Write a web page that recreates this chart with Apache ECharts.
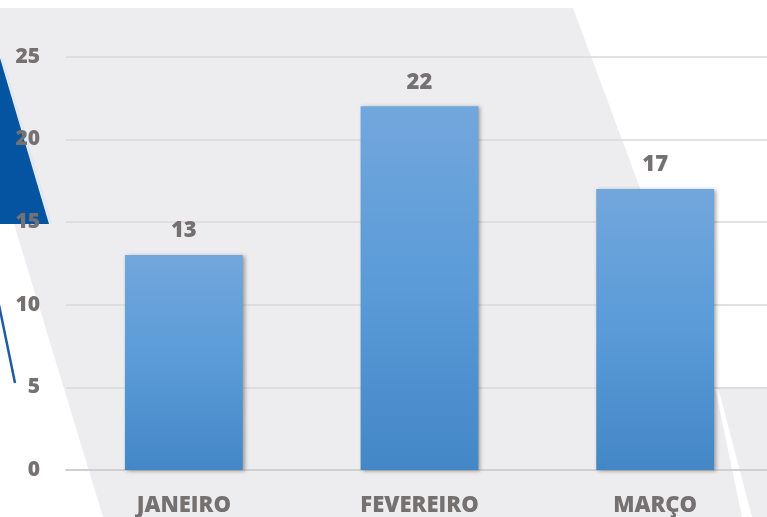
<!DOCTYPE html>
<html>
<head>
<meta charset="utf-8">
<script src="https://cdn.jsdelivr.net/npm/echarts@6/dist/echarts.min.js"></script>
<style>
html,body{margin:0;padding:0;background:#ffffff;}
#chart{width:767px;height:517px;}
</style>
</head>
<body>
<div id="chart"></div>
<script>
var categories = ['JANEIRO', 'FEVEREIRO', 'MARÇO'];
var values = [13, 22, 17];
var yMin = 0, yMax = 25, yStep = 5;

var chart = echarts.init(document.getElementById('chart'), null, {renderer: 'canvas'});
var textGrey = '#767171';
var bgGrey = '#EDEDEF';
var fontFam = '"Open Sans", sans-serif';

var option = {
  backgroundColor: '#ffffff',
  animation: false,
  graphic: [
    {type: 'polygon', z: -20, silent: true,
     shape: {points: [[0,8],[573,8],[716,392],[742,517],[103,517],[14,224],[0,224]]},
     style: {fill: bgGrey}},
    {type: 'polygon', z: -20, silent: true,
     shape: {points: [[718,387],[767,387],[767,517],[752,517]]},
     style: {fill: bgGrey}},
    {type: 'polygon', z: -15, silent: true,
     shape: {points: [[0,58],[49,224],[0,224]]},
     style: {fill: '#0554A1'}},
    {type: 'line', z: -14, silent: true,
     shape: {x1: 2, y1: 58, x2: 51, y2: 223},
     style: {stroke: '#DDE8F4', lineWidth: 2}},
    {type: 'line', z: -14, silent: true,
     shape: {x1: -1, y1: 305, x2: 15, y2: 383},
     style: {stroke: '#1F5C9E', lineWidth: 2.5}}
  ],
  grid: {left: 66, top: 56.7, right: -6, bottom: 47, containLabel: false, outerBoundsMode: 'none'},
  xAxis: {
    type: 'category',
    data: categories,
    axisLine: {show: true, lineStyle: {color: '#D0D0D0', width: 2}},
    axisTick: {show: false},
    axisLabel: {color: textGrey, fontFamily: fontFam, fontWeight: 800, fontSize: 22, margin: 25}
  },
  yAxis: {
    type: 'value',
    min: yMin, max: yMax, interval: yStep,
    axisLine: {show: false},
    axisTick: {show: false},
    splitLine: {lineStyle: {color: '#D9D9D9', width: 1.5}},
    axisLabel: {color: textGrey, fontFamily: fontFam, fontWeight: 800, fontSize: 21, margin: 26}
  },
  series: [{
    type: 'bar',
    data: values,
    barWidth: '50%',
    itemStyle: {
      color: new echarts.graphic.LinearGradient(0, 0, 0, 1, [
        {offset: 0, color: '#72A7DC'},
        {offset: 0.5, color: '#5A9BD8'},
        {offset: 1, color: '#4487C7'}
      ]),
      shadowColor: 'rgba(0,0,0,0.35)',
      shadowBlur: 4,
      shadowOffsetX: 2,
      shadowOffsetY: 1
    },
    label: {
      show: true, position: 'top', distance: 13,
      color: textGrey, fontFamily: fontFam, fontWeight: 800, fontSize: 22
    }
  }]
};
chart.setOption(option);
</script>
</body>
</html>
